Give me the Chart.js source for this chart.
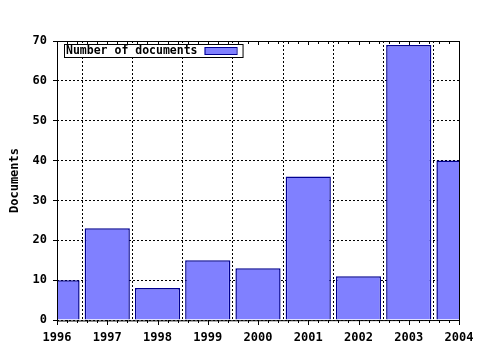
<!DOCTYPE html>
<html><head><meta charset="utf-8">
<script src="https://cdn.jsdelivr.net/npm/chart.js@4/dist/chart.umd.min.js"></script>
<style>html,body{margin:0;padding:0;background:#fff}#wrap{width:480px;height:350px}</style>
</head><body><div id="wrap"><canvas id="c" width="480" height="350"></canvas></div>
<script>
const years = [1996, 1997, 1998, 1999, 2000, 2001, 2002, 2003, 2004];
const documents = [10, 23, 8, 15, 13, 36, 11, 69, 40];
const seriesLabel = 'Number of documents';
const yTitle = 'Documents';

const FONT = '"DejaVu Sans Mono", "Liberation Mono", monospace';

const framePlugin = {
  id: 'frame',
  afterDatasetsDraw(chart) {
    const {ctx, chartArea: a, scales} = chart;
    const xs = scales.x;
    ctx.save();
    ctx.strokeStyle = '#000';
    ctx.lineWidth = 1;
    ctx.beginPath();
    ctx.moveTo(a.left + 0.5, a.top + 0.5); ctx.lineTo(a.right + 0.5, a.top + 0.5);
    ctx.lineTo(a.right + 0.5, a.bottom + 0.5);
    ctx.moveTo(a.left + 0.5, a.top); ctx.lineTo(a.left + 0.5, a.bottom + 1);
    ctx.lineTo(a.right + 1, a.bottom + 0.5);
    for (let i = 0; i < years.length; i++) {
      const px = Math.round(xs.getPixelForValue(years[i])) + 0.5;
      ctx.moveTo(px, a.top); ctx.lineTo(px, a.top + 4);
      ctx.moveTo(px, a.bottom); ctx.lineTo(px, a.bottom + 5);
      if (i < years.length - 1) {
        for (let k = 1; k < 5; k++) {
          const mx = Math.round(xs.getPixelForValue(years[i] + k / 5)) + 0.5;
          ctx.moveTo(mx, a.top); ctx.lineTo(mx, a.top + 3);
          ctx.moveTo(mx, a.bottom); ctx.lineTo(mx, a.bottom + 3);
        }
      }
    }
    ctx.stroke();
    // legend
    const lx = a.left + 7, ly = a.top + 3;
    ctx.font = 'bold 11.5px ' + FONT;
    const tw = ctx.measureText(seriesLabel).width;
    const bw = tw + 2 + 8 + 32 + 5;
    ctx.fillStyle = '#fff';
    ctx.fillRect(lx, ly, bw, 13);
    ctx.strokeRect(lx + 0.5, ly + 0.5, bw, 13);
    ctx.fillStyle = '#000';
    ctx.textBaseline = 'middle';
    ctx.fillText(seriesLabel, lx + 2, ly + 7);
    const sx = lx + 2 + tw + 7;
    ctx.fillStyle = '#8080ff';
    ctx.fillRect(sx, ly + 3, 32, 8);
    ctx.strokeStyle = '#000090';
    ctx.strokeRect(sx + 0.5, ly + 3.5, 32, 7);
    ctx.restore();
  }
};

new Chart(document.getElementById('c'), {
  type: 'bar',
  data: {
    datasets: [{
      label: seriesLabel,
      data: years.map((y, i) => ({x: y, y: documents[i]})),
      backgroundColor: '#8080ff',
      borderColor: '#000090',
      borderWidth: 1.5,
      borderSkipped: 'bottom',
      inflateAmount: 0,
      barPercentage: 0.9,
      categoryPercentage: 1.0
    }]
  },
  options: {
    responsive: false,
    animation: false,
    layout: {padding: {top: 41, right: 21, left: 0, bottom: 0}},
    plugins: {legend: {display: false}, tooltip: {enabled: false}},
    scales: {
      x: {
        type: 'linear', min: 1996, max: 2004, offset: false,
        afterFit(s) { s.height = 30; s.paddingRight = 0; s.paddingLeft = 0; },
        ticks: {stepSize: 1, autoSkip: false, maxRotation: 0, color: '#000', padding: 11,
          font: {family: FONT, size: 12, weight: 'bold'}, callback: v => String(v)},
        grid: {color: '#000', lineWidth: 1, drawTicks: false, tickLength: 0},
        border: {display: false, dash: [2, 2]}
      },
      y: {
        min: 0, max: 70,
        afterFit(s) { s.width = 57; },
        ticks: {stepSize: 10, color: '#000', padding: 6,
          font: {family: FONT, size: 12, weight: 'bold'}},
        grid: {color: '#000', lineWidth: 1, tickLength: 4, tickColor: '#000', tickBorderDash: [], tickBorderDashOffset: 0},
        border: {display: false, dash: [2, 2]},
        title: {display: true, text: yTitle, color: '#000', padding: {top: 8, bottom: 0},
          font: {family: FONT, size: 12, weight: 'bold'}}
      }
    }
  },
  plugins: [framePlugin]
});
</script></body></html>
